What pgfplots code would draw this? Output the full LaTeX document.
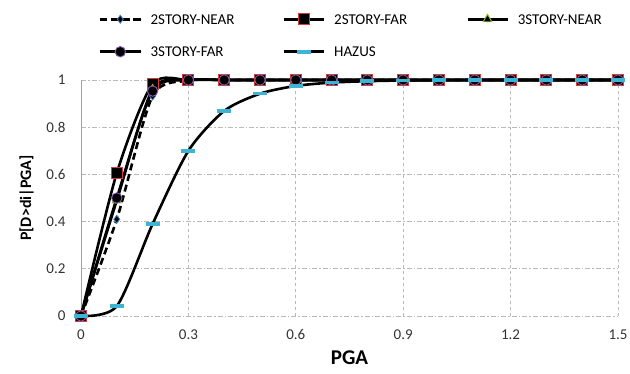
\documentclass[border=0pt]{standalone}
\usepackage{fontspec}
\setmainfont{Carlito}
\usepackage{pgfplots}
\pgfplotsset{compat=1.18}
\definecolor{gridgray}{RGB}{185,185,185}
\definecolor{axgray}{RGB}{160,160,160}
\definecolor{dblue}{RGB}{70,130,200}
\definecolor{sqred}{RGB}{210,60,60}
\definecolor{trigreen}{RGB}{150,190,40}
\definecolor{cpurple}{RGB}{130,90,170}
\definecolor{hcyan}{RGB}{60,180,210}
\begin{document}
\begin{tikzpicture}
\begin{axis}[
  scale only axis,
  width=537pt, height=236pt,
  xmin=0, xmax=1.5, ymin=0, ymax=1,
  xtick={0,0.3,0.6,0.9,1.2,1.5},
  ytick={0,0.2,0.4,0.6,0.8,1},
  xticklabels={0,0.3,0.6,0.9,1.2,1.5},
  yticklabels={0,0.2,0.4,0.6,0.8,1},
  tick label style={font=\fontsize{15}{17}\selectfont, black!80},
  major tick length=0pt,
  xticklabel style={yshift=-10pt},
  yticklabel style={xshift=-12pt},
  axis lines*=left,
  x axis line style={draw=none},
  y axis line style={axgray, line width=0.8pt},
  xmajorgrids, ymajorgrids,
  x grid style={gridgray, dashed, line width=0.7pt},
  y grid style={gridgray, dash pattern=on 5pt off 2pt on 1.5pt off 2pt, line width=0.7pt},
  xlabel={\textbf{PGA}},
  xlabel style={font=\fontsize{21}{23}\selectfont, yshift=-4pt},
  ylabel={\textbf{P[D>di|PGA]}},
  ylabel style={font=\fontsize{16}{18}\selectfont, yshift=6pt},
  clip=false,
  legend columns=3,
  legend cell align=left,
  legend style={draw=none, fill=none, at={(18pt,258pt)}, anchor=south west,
    inner sep=0pt, outer sep=0pt,
    font=\fontsize{15}{17}\selectfont,
    nodes={inner sep=0pt, outer sep=0pt},
    /tikz/every odd column/.append style={column sep=9pt},
    /tikz/every even column/.append style={column sep=19pt, text width=113pt, text height=11pt, text depth=3pt, anchor=west},
    row sep=20pt},
  legend image code/.code={\draw[mark repeat=2,mark phase=2] plot coordinates {(0pt,0pt)(20pt,0pt)(40pt,0pt)};},
  every axis plot/.append style={line width=2.6pt, black, smooth, tension=0.45},
]
\addplot[dashed, dash pattern=on 7pt off 4pt, mark=diamond*, mark size=4pt,
  mark options={solid, fill=black, draw=dblue, line width=0.8pt}]
  coordinates {(0,0)(0.1,0.41)(0.2,0.932)(0.3,0.997)(0.4,1)(0.5,1)(0.6,1)(0.7,1)(0.8,1)(0.9,1)(1.0,1)(1.1,1)(1.2,1)(1.3,1)(1.4,1)(1.5,1)};
\addlegendentry{2STORY-NEAR}
\addplot[mark=square*, mark size=5.5pt,
  mark options={solid, fill=black, draw=sqred, line width=0.9pt}]
  coordinates {(0,0)(0.1,0.606)(0.2,0.983)(0.3,1)(0.4,1)(0.5,1)(0.6,1)(0.7,1)(0.8,1)(0.9,1)(1.0,1)(1.1,1)(1.2,1)(1.3,1)(1.4,1)(1.5,1)};
\addlegendentry{2STORY-FAR}
\addplot[mark=triangle*, mark size=5pt,
  mark options={solid, fill=black, draw=trigreen, line width=0.9pt}]
  coordinates {(0,0)(0.1,0.49)(0.2,0.96)(0.3,1)(0.4,1)(0.5,1)(0.6,1)(0.7,1)(0.8,1)(0.9,1)(1.0,1)(1.1,1)(1.2,1)(1.3,1)(1.4,1)(1.5,1)};
\addlegendentry{3STORY-NEAR}
\addplot[mark=*, mark size=5.2pt,
  mark options={solid, fill=black, draw=cpurple, line width=0.9pt}]
  coordinates {(0,0)(0.1,0.50)(0.2,0.953)(0.3,1)(0.4,1)(0.5,1)(0.6,1)(0.7,1)(0.8,1)(0.9,1)(1.0,1)(1.1,1)(1.2,1)(1.3,1)(1.4,1)(1.5,1)};
\addlegendentry{3STORY-FAR}
\addplot[mark=-, mark size=7pt,
  mark options={solid, draw=hcyan, line width=3.5pt}]
  coordinates {(0,0)(0.1,0.042)(0.2,0.39)(0.3,0.70)(0.4,0.869)(0.5,0.942)(0.6,0.975)(0.7,0.989)(0.8,0.995)(0.9,0.998)(1.0,0.999)(1.1,1)(1.2,1)(1.3,1)(1.4,1)(1.5,1)};
\addlegendentry{HAZUS}
\end{axis}
\pgfresetboundingbox
\path[use as bounding box] ([xshift=-81pt,yshift=-57pt]current axis.south west) rectangle ([xshift=12pt,yshift=80pt]current axis.north east);
\end{tikzpicture}
\end{document}
